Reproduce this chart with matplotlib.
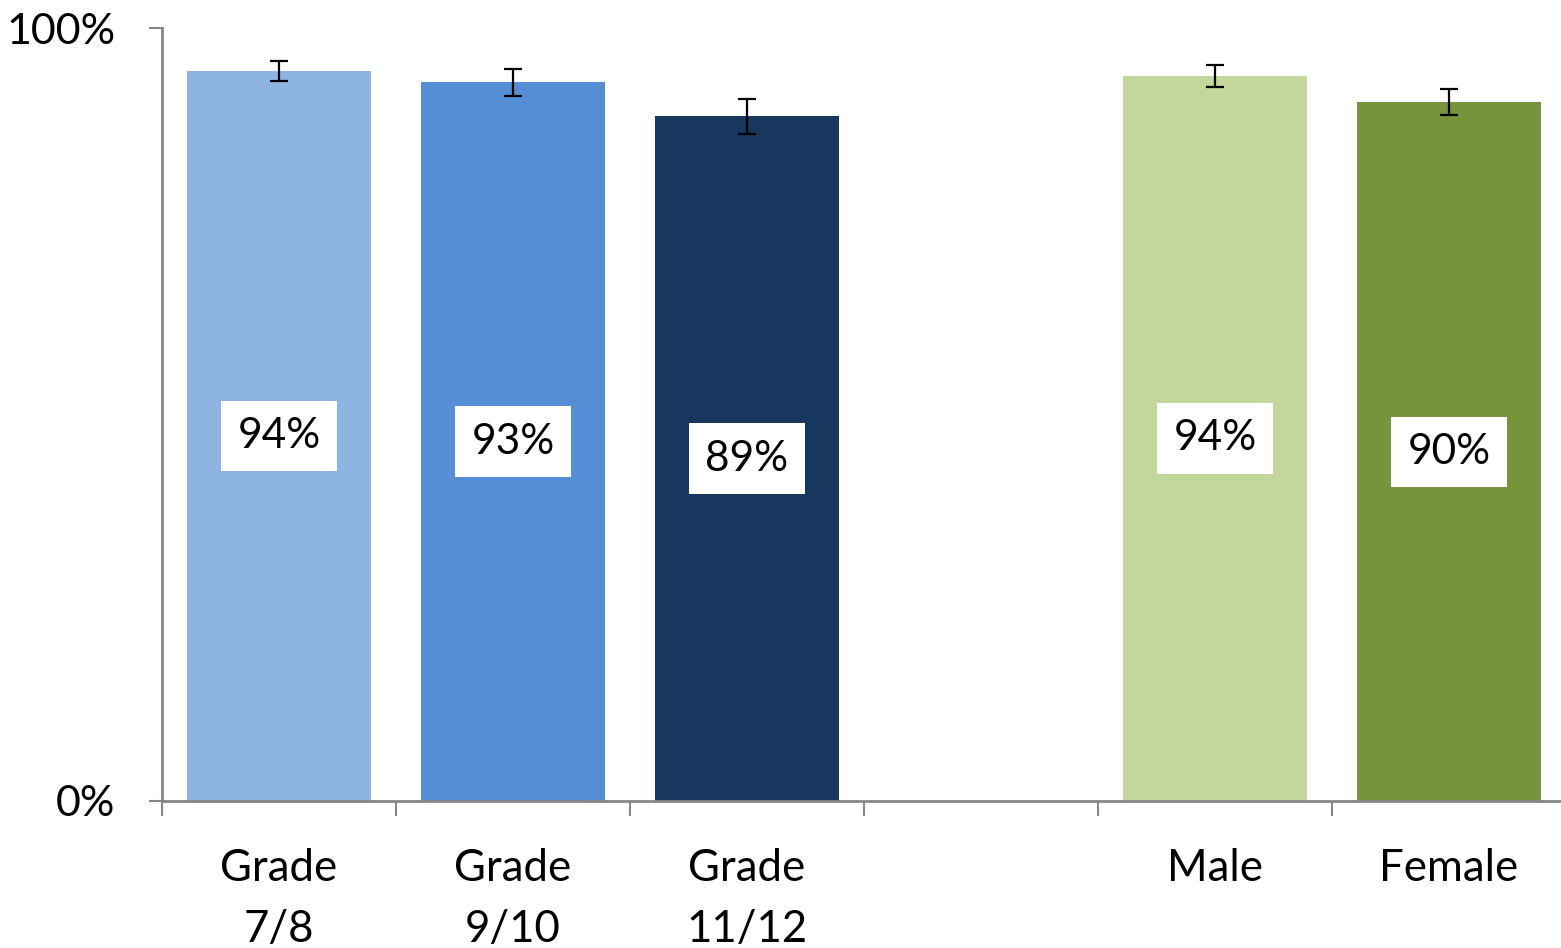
import matplotlib

matplotlib.use("Agg")
import matplotlib.pyplot as plt
import numpy as np

# slot positions: one empty slot separates grade and gender groups
categories = ["Grade\n7/8", "Grade\n9/10", "Grade\n11/12", "", "Male", "Female"]
values = [0.944, 0.930, 0.886, None, 0.938, 0.904]
errors = [0.013, 0.0175, 0.0225, None, 0.014, 0.017]
value_labels = ["94%", "93%", "89%", "", "94%", "90%"]
colors = ["#8EB4E3", "#558ED5", "#17375E", "none", "#C3D69B", "#77933C"]

plt.rcParams["font.family"] = ["Lato", "DejaVu Sans"]

fig = plt.figure(figsize=(15.61, 9.48), dpi=100)
ax = fig.add_axes([162 / 1561, 1 - 801 / 948, 1404 / 1561, 773 / 948])

axis_grey = "#868686"
for i, (val, err, lab, col) in enumerate(zip(values, errors, value_labels, colors)):
    if val is None:
        continue
    ax.bar(i, val, width=0.786, color=col, zorder=1)
    ax.errorbar(i, val, yerr=err, fmt="none", ecolor="black",
                elinewidth=1.6, capsize=6.8, capthick=1.6, zorder=3)
    ax.text(i, val / 2, lab, ha="center", va="center", fontsize=30.5,
            bbox=dict(boxstyle="square,pad=0.38", fc="white", ec="none"),
            zorder=4)

ax.set_xlim(-0.5, 5.5)
ax.set_ylim(0, 1)

for side in ("top", "right"):
    ax.spines[side].set_visible(False)
for side in ("left", "bottom"):
    ax.spines[side].set_color(axis_grey)
    ax.spines[side].set_linewidth(2)
    ax.spines[side].set_zorder(2)

ax.set_yticks([0, 1])
ax.set_yticklabels(["0%", "100%"])
ax.tick_params(axis="y", direction="out", length=9.5, width=1.5,
               color=axis_grey, labelsize=31, pad=24)

ax.set_xticks(np.arange(len(categories)))
ax.set_xticklabels(categories, linespacing=1.6)
ax.tick_params(axis="x", which="major", length=0, labelsize=31.5, pad=34)
ax.set_xticks(np.arange(len(categories) + 1) - 0.5, minor=True)
ax.tick_params(axis="x", which="minor", direction="out", length=11,
               width=1.5, color=axis_grey)

fig.savefig("out.png", dpi=100)
